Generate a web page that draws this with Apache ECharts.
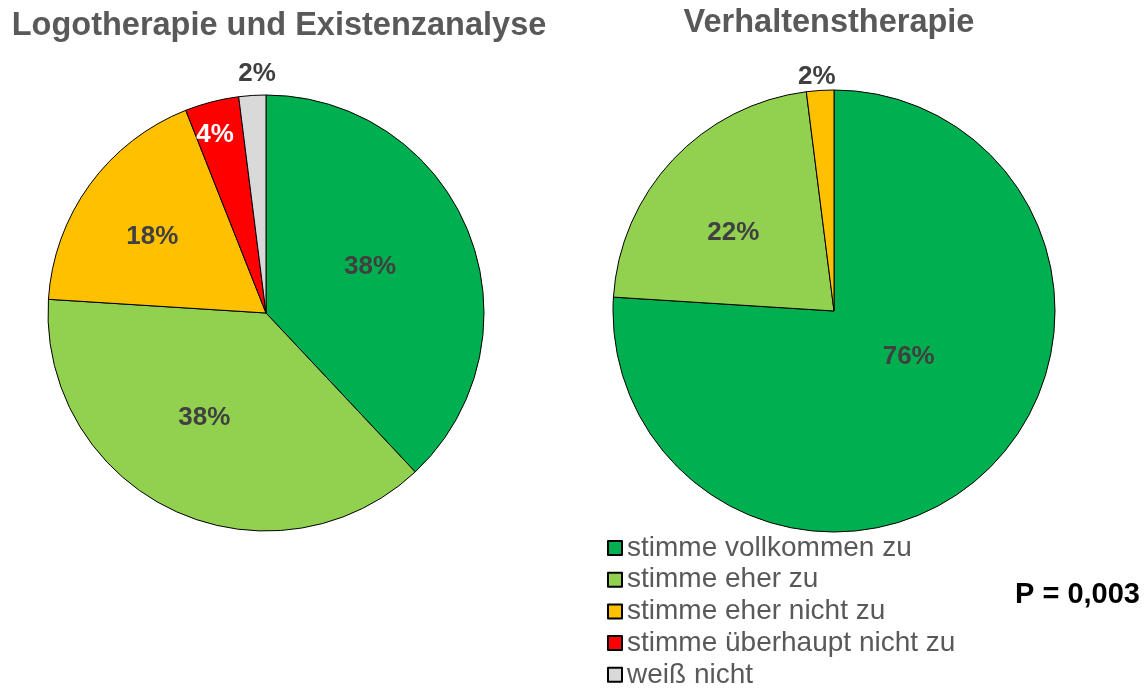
<!DOCTYPE html>
<html>
<head>
<meta charset="utf-8">
<title>Logotherapie und Existenzanalyse vs. Verhaltenstherapie</title>
<script src="https://cdn.jsdelivr.net/npm/echarts@6/dist/echarts.min.js"></script>
<style>
  html, body { margin: 0; padding: 0; background: #ffffff; }
  #chart { width: 1145px; height: 688px; }
</style>
</head>
<body>
<div id="chart"></div>
<script>
// Answer categories (shared by both pies)
const categories = [
  'stimme vollkommen zu',
  'stimme eher zu',
  'stimme eher nicht zu',
  'stimme überhaupt nicht zu',
  'weiß nicht'
];

// Share of answers in percent
const logoValues = [38, 38, 18, 4, 2];
const verhaltenValues = [76, 22, 2];

const titles = ['Logotherapie und Existenzanalyse', 'Verhaltenstherapie'];
const pValueText = 'P = 0,003';

// Styling
const sliceColors = ['#00B050', '#92D050', '#FFC000', '#FF0000', '#D9D9D9'];
const font = '"Liberation Sans", Arial, Helvetica, sans-serif';
const textGrey = '#595959';
const labelGrey = '#404040';

// Label nudges relative to the default inside-label anchor
const logoLabelShift = [[0, -5], [-14, 3], [-23, -10], [-23, -70], [-2, -127]];
const verhaltenLabelShift = [[-3, -37], [-18, 0], [-10, -121]];

function buildData(values) {
  return values.map((v, i) => ({
    name: categories[i],
    value: v,
    itemStyle: { color: sliceColors[i] },
    label: { color: i === 3 ? '#ffffff' : labelGrey }
  }));
}

function pieSeries(name, values, center, radius, shifts) {
  return {
    name: name,
    type: 'pie',
    center: center,
    radius: radius,
    startAngle: 90,
    clockwise: true,
    avoidLabelOverlap: false,
    silent: true,
    itemStyle: { borderColor: '#000000', borderWidth: 1 },
    label: {
      show: true,
      position: 'inside',
      fontFamily: font,
      fontSize: 26,
      fontWeight: 'bold',
      formatter: p => p.value + '%'
    },
    labelLine: { show: false },
    labelLayout: p => ({ dx: shifts[p.dataIndex][0], dy: shifts[p.dataIndex][1] }),
    emphasis: { disabled: true },
    data: buildData(values)
  };
}

const chart = echarts.init(document.getElementById('chart'), null, { renderer: 'canvas' });

chart.setOption({
  animation: false,
  backgroundColor: '#ffffff',
  title: [
    {
      text: titles[0], left: 279, top: 10, textAlign: 'center', padding: 0,
      textStyle: { fontFamily: font, fontSize: 32.5, fontWeight: 'bold', color: textGrey }
    },
    {
      text: titles[1], left: 829, top: 7, textAlign: 'center', padding: 0,
      textStyle: { fontFamily: font, fontSize: 32.5, fontWeight: 'bold', color: textGrey }
    },
    {
      text: pValueText, left: 1140, top: 580, textAlign: 'right', padding: 0,
      textStyle: { fontFamily: font, fontSize: 29, fontWeight: 'bold', color: '#000000' }
    }
  ],
  legend: {
    orient: 'vertical',
    left: 607,
    top: 534,
    height: 170,
    padding: 0,
    icon: 'rect',
    itemWidth: 14,
    itemHeight: 14,
    itemGap: 3.7,
    selectedMode: false,
    data: categories,
    textStyle: { fontFamily: font, fontSize: 28, color: textGrey }
  },
  series: [
    pieSeries(titles[0], logoValues, [266, 313], 218, logoLabelShift),
    pieSeries(titles[1], verhaltenValues, [834, 311], 221, verhaltenLabelShift)
  ]
});
</script>
</body>
</html>
